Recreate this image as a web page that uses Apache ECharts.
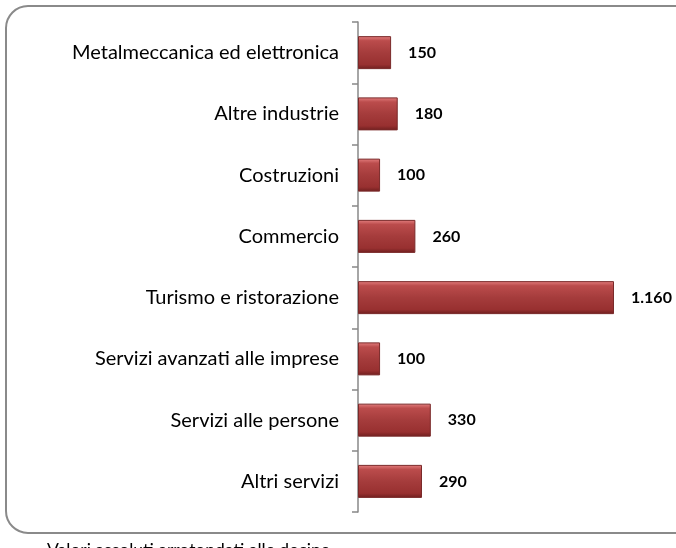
<!DOCTYPE html>
<html><head><meta charset="utf-8">
<script src="https://cdn.jsdelivr.net/npm/echarts@6/dist/echarts.min.js"></script>
<style>html,body{margin:0;padding:0;background:#fff}#c{width:676px;height:548px}</style>
</head><body><div id="c"></div>
<script>
const categories = ["Metalmeccanica ed elettronica","Altre industrie","Costruzioni","Commercio","Turismo e ristorazione","Servizi avanzati alle imprese","Servizi alle persone","Altri servizi"];
const values = [150,180,100,260,1160,100,330,290];
const footnote = "Valori assoluti arrotondati alle decine";

function fmt(v){return String(v).replace(/\B(?=(\d{3})+(?!\d))/g,'.');}

const chart = echarts.init(document.getElementById('c'));
chart.setOption({
  animation:false,
  graphic:[
    {type:'rect',shape:{x:6,y:6,width:700,height:527,r:22},style:{fill:'none',stroke:'#8a8a8a',lineWidth:2},z:-1},
    {type:'text',left:47,top:541,style:{text:footnote,font:'17.5px Lato',fill:'#000'}}
  ],
  grid:{left:358,top:22,width:256,height:490,containLabel:false},
  xAxis:{type:'value',min:0,max:1160,show:false},
  yAxis:{type:'category',data:categories,inverse:true,
    axisLine:{lineStyle:{color:'#888',width:1.5}},
    axisTick:{show:true,length:6,lineStyle:{color:'#888',width:1.5}},
    axisLabel:{color:'#000',fontSize:20,fontFamily:'Lato',margin:19}},
  series:[{type:'bar',data:values,barWidth:33,
    itemStyle:{color:new echarts.graphic.LinearGradient(0,0,0,1,[
      {offset:0,color:'#e58080'},{offset:0.14,color:'#bb4c4c'},{offset:0.5,color:'#a53c3c'},{offset:0.86,color:'#983030'},{offset:1,color:'#6e1e1e'}]),
      borderColor:'#7a2a2a',borderWidth:1},
    label:{show:true,position:'right',distance:17,color:'#000',fontWeight:'bold',fontSize:16,fontFamily:'Lato',
      formatter:p=>fmt(p.value)}}]
});
</script></body></html>
